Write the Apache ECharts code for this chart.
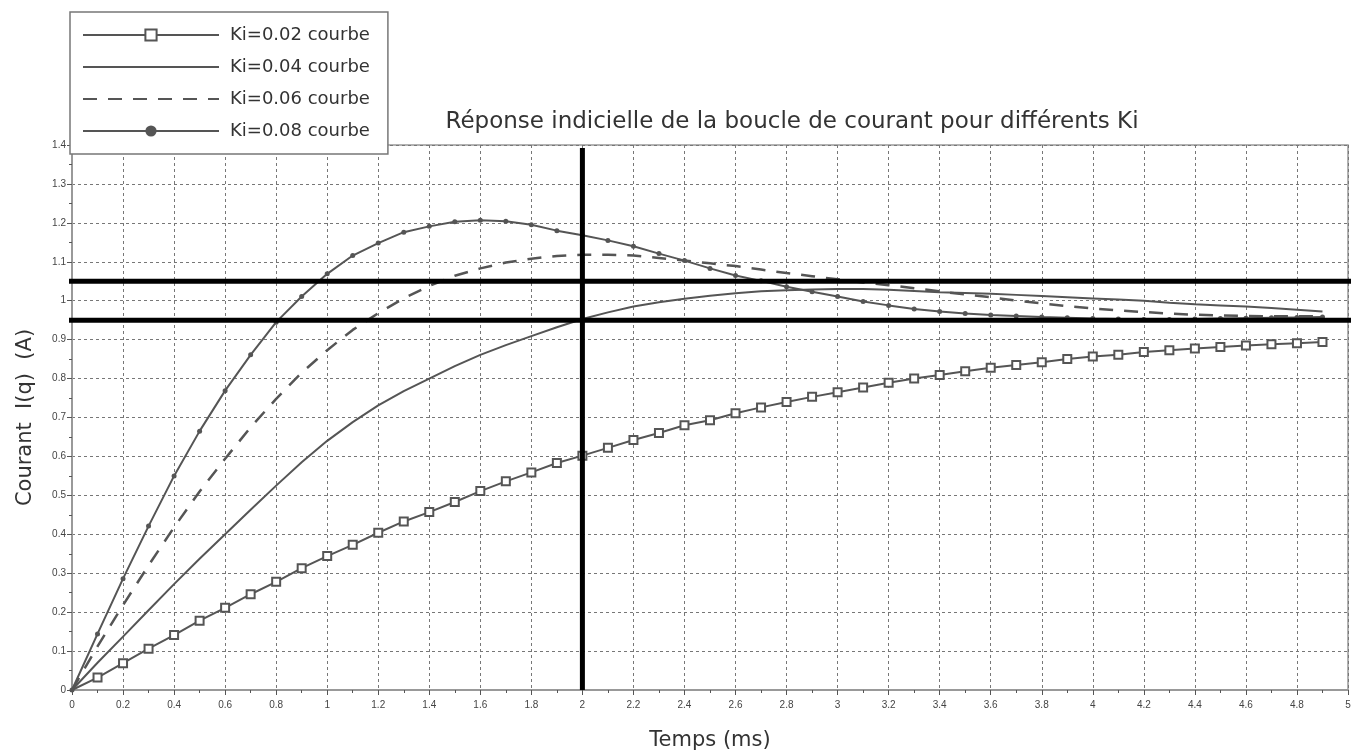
<!DOCTYPE html>
<html><head><meta charset="utf-8">
<script src="https://cdn.jsdelivr.net/npm/echarts@6/dist/echarts.min.js"></script>
<style>html,body{margin:0;padding:0;background:#fff}#c{width:1359px;height:756px}</style>
</head><body><div id="c"></div>
<script>
const times = [0,0.1,0.2,0.3,0.4,0.5,0.6,0.7,0.8,0.9,1.0,1.1,1.2,1.3,1.4,1.5,1.6,1.7,1.8,1.9,2.0,2.1,2.2,2.3,2.4,2.5,2.6,2.7,2.8,2.9,3.0,3.1,3.2,3.3,3.4,3.5,3.6,3.7,3.8,3.9,4.0,4.1,4.2,4.3,4.4,4.5,4.6,4.7,4.8,4.9];
const ki002 = [0,0.032,0.069,0.106,0.141,0.178,0.211,0.246,0.278,0.313,0.344,0.373,0.404,0.433,0.457,0.483,0.511,0.536,0.559,0.583,0.602,0.622,0.642,0.660,0.680,0.693,0.711,0.726,0.740,0.753,0.765,0.777,0.789,0.800,0.809,0.819,0.828,0.835,0.842,0.850,0.857,0.861,0.868,0.873,0.877,0.881,0.885,0.888,0.891,0.894];
const ki004 = [0,0.070,0.137,0.205,0.272,0.337,0.400,0.463,0.525,0.585,0.640,0.688,0.731,0.768,0.800,0.832,0.861,0.886,0.909,0.932,0.953,0.970,0.985,0.996,1.005,1.013,1.019,1.024,1.027,1.029,1.030,1.030,1.028,1.025,1.022,1.020,1.018,1.015,1.012,1.009,1.006,1.003,1.000,0.995,0.991,0.988,0.985,0.981,0.977,0.972];
const ki006 = [0,0.112,0.218,0.320,0.418,0.510,0.594,0.675,0.748,0.815,0.873,0.925,0.968,1.006,1.038,1.064,1.083,1.098,1.108,1.115,1.118,1.118,1.116,1.110,1.103,1.096,1.089,1.080,1.071,1.063,1.055,1.047,1.040,1.032,1.024,1.016,1.009,1.000,0.993,0.986,0.980,0.975,0.971,0.967,0.964,0.962,0.961,0.960,0.960,0.960];
const ki008 = [0,0.144,0.286,0.421,0.550,0.665,0.769,0.861,0.945,1.011,1.069,1.116,1.148,1.176,1.191,1.203,1.207,1.204,1.195,1.180,1.168,1.155,1.140,1.121,1.103,1.083,1.065,1.051,1.036,1.023,1.011,0.998,0.988,0.979,0.972,0.967,0.963,0.961,0.958,0.956,0.954,0.953,0.952,0.952,0.953,0.954,0.955,0.956,0.957,0.958];
const seriesNames = ['Ki=0.02 courbe','Ki=0.04 courbe','Ki=0.06 courbe','Ki=0.08 courbe'];
const bandLevels = [1.05, 0.95];
const bandXSpan = [-0.025, 5.028];
const markTime = 2;
const markYSpan = [0, 1.392];
const titleText = 'Réponse indicielle de la boucle de courant pour différents Ki';
const xName = 'Temps (ms)';
const yName = 'Courant  I(q)  (A)';

const curveColor = '#555';
const pair = arr => times.map((t, i) => [t, arr[i]]);
const squareData = pair(ki002).map((p, i) => i === 0 ? {value: p, symbol: 'none'} : p);

const refSeries = bandLevels.map(v => ({
  type: 'line', silent: true, clip: false, symbol: 'none', z: 10,
  data: bandXSpan.map(x => [x, v]),
  lineStyle: {color: '#000', width: 5}
}));
refSeries.push({
  type: 'line', silent: true, clip: false, symbol: 'none', z: 10,
  data: markYSpan.map(y => [markTime, y]),
  lineStyle: {color: '#000', width: 5}
});

const chart = echarts.init(document.getElementById('c'), null, {renderer: 'canvas'});
chart.setOption({
  animation: false,
  backgroundColor: '#fff',
  title: {
    text: titleText, left: 787, top: 106, textAlign: 'center',
    textStyle: {fontFamily: 'DejaVu Sans', fontSize: 23, fontWeight: 'normal', color: '#333'}
  },
  legend: {
    orient: 'vertical', left: 70, top: 12,
    data: [
      {name: seriesNames[0]},
      {name: seriesNames[1], itemStyle: {opacity: 0}},
      {name: seriesNames[2], itemStyle: {opacity: 0}},
      {name: seriesNames[3]}
    ],
    itemWidth: 136, itemHeight: 14, itemGap: 14,
    padding: [14, 18, 14, 12],
    backgroundColor: '#fff', borderColor: '#777', borderWidth: 1.5,
    textStyle: {fontFamily: 'DejaVu Sans', fontSize: 18, color: '#333', padding: [0, 0, 0, 6]}
  },
  grid: {left: 72, right: 11, top: 145, bottom: 66, show: true, borderColor: '#999', borderWidth: 1.5, containLabel: false},
  xAxis: {
    type: 'value', min: 0, max: 5, interval: 0.2,
    name: xName, nameLocation: 'middle', nameGap: 40,
    nameTextStyle: {fontFamily: 'DejaVu Sans', fontSize: 21, color: '#333'},
    axisLine: {lineStyle: {color: '#999', width: 2}},
    axisTick: {show: true, length: 5, lineStyle: {color: '#555'}},
    minorTick: {show: true, splitNumber: 2, length: 3, lineStyle: {color: '#555'}},
    axisLabel: {fontFamily: 'Liberation Sans', fontSize: 10, color: '#444', margin: 10},
    splitLine: {show: true, lineStyle: {color: '#777', type: [3, 3], width: 1}}
  },
  yAxis: {
    type: 'value', min: 0, max: 1.4, interval: 0.1,
    name: yName, nameLocation: 'middle', nameGap: 36, nameRotate: 90,
    nameTextStyle: {fontFamily: 'DejaVu Sans', fontSize: 21, color: '#333'},
    axisLine: {show: true, lineStyle: {color: '#999', width: 2}},
    axisTick: {show: true, length: 5, lineStyle: {color: '#555'}},
    minorTick: {show: true, splitNumber: 2, length: 3, lineStyle: {color: '#555'}},
    axisLabel: {fontFamily: 'Liberation Sans', fontSize: 10, color: '#444', margin: 6},
    splitLine: {show: true, lineStyle: {color: '#777', type: [3, 3], width: 1}}
  },
  series: [
    {name: seriesNames[0], type: 'line', data: squareData, symbol: 'rect', symbolSize: 8, showAllSymbol: true,
     lineStyle: {color: curveColor, width: 2}, itemStyle: {color: '#fff', borderColor: curveColor, borderWidth: 2}, color: curveColor},
    {name: seriesNames[1], type: 'line', data: pair(ki004), symbol: 'none',
     lineStyle: {color: curveColor, width: 2}, itemStyle: {color: curveColor}, color: curveColor},
    {name: seriesNames[2], type: 'line', data: pair(ki006), symbol: 'none',
     lineStyle: {color: curveColor, width: 2.5, type: [14, 11]}, itemStyle: {color: curveColor}, color: curveColor},
    {name: seriesNames[3], type: 'line', data: pair(ki008), symbol: 'circle', symbolSize: 5, showAllSymbol: true,
     lineStyle: {color: curveColor, width: 2}, itemStyle: {color: curveColor}, color: curveColor}
  ].concat(refSeries)
});
</script>
</body></html>
